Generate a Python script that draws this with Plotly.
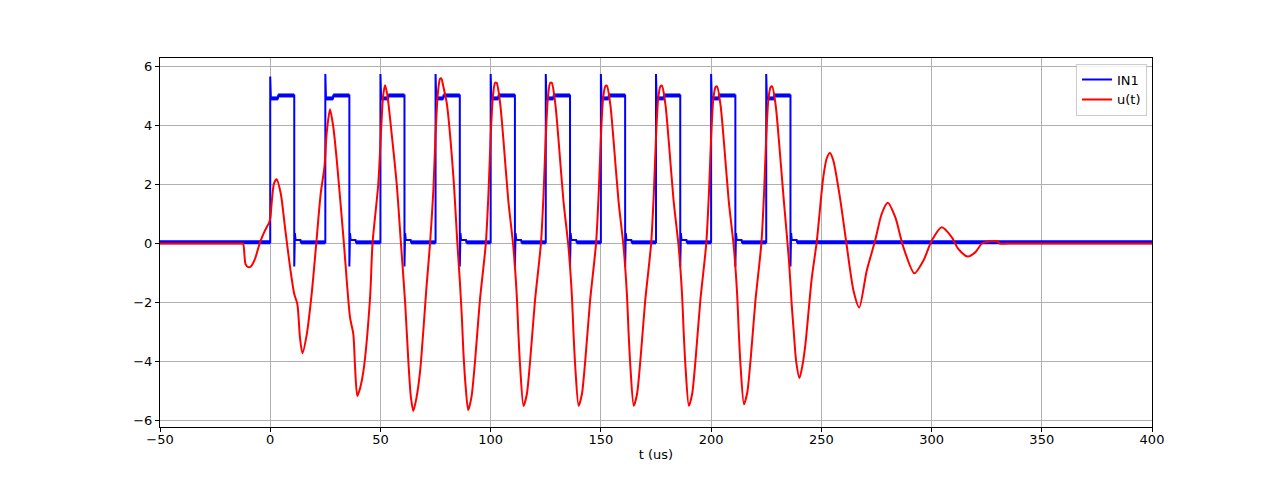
import plotly.graph_objects as go

# ---------------- data ----------------
# IN1 : square pulses
rise_times = [0, 25, 50, 75, 100, 125, 150, 175, 200, 225]
fall_times = [10.9, 35.9, 60.9, 86.0, 111.0, 136.0, 161.0, 186.0, 211.0, 236.0]
rise_spike = [5.66, 5.75, 5.75, 5.75, 5.75, 5.75, 5.75, 5.75, 5.75, 5.75]
high_first = 4.92      # level just after the rising edge
high_level = 5.02      # settled high level
fall_dip = -0.78       # undershoot at falling edge
fall_kick = 0.35       # small kick after falling edge
low_shelf = 0.12       # short shelf after falling edge
base_level = 0.04      # resting level

# u(t) : response
u_t = [-50, -13.0, -12.3, -11.2, -10.0, -8.8, -6.9, -4.6, -2.4, -0.4, 0.1, 0.8, 1.7, 2.9,
       4.8, 6.7, 9.0, 10.9, 12.3, 13.5, 14.6, 16.6, 18.8, 20.8, 22.9, 24.6,
       25.6, 27.1, 28.6, 30.2, 33.2, 36.2, 37.7, 38.5, 39.5, 40.8, 42.3, 45.3,
       46.4, 49.0, 50.4, 51.2, 52.1, 53.2, 54.7, 57.4, 59.3, 61.2, 62.7, 63.8, 64.9,
       66.3, 68.0, 71.0, 72.5, 74.0, 75.0, 76.0, 77.0, 77.6, 78.6, 80.1, 83.1, 84.9,
       86.1, 87.0, 87.6, 88.6, 89.8, 91.3, 92.9, 95.1,
       97.8, 99.0, 100.0, 101.0, 102.0, 102.7, 104.3, 105.8, 108.0, 110.3, 111.8, 112.6, 113.4, 114.9, 116.4, 117.9, 120.1,
       122.8, 124.0, 125.0, 126.0, 127.0, 127.7, 129.3, 130.8, 133.0, 135.3, 136.8, 137.6, 138.4, 139.9, 141.4, 142.9, 145.1,
       147.8, 149.0, 150.0, 151.0, 152.0, 152.7, 154.3, 155.8, 158.0, 160.3, 161.8, 162.6, 163.4, 164.9, 166.4, 167.9, 170.1,
       172.8, 174.0, 175.0, 176.0, 177.0, 177.7, 179.3, 180.8, 183.0, 185.3, 186.8, 187.6, 188.4, 189.9, 191.4, 192.9, 195.1,
       197.8, 199.0, 200.0, 201.0, 202.0, 202.7, 204.3, 205.8, 208.0, 210.3, 211.8, 212.6, 213.4, 214.9, 216.4, 217.9, 220.1,
       222.8, 224.0, 225.0, 226.0, 227.0, 227.7, 229.3, 230.8, 233.0, 235.3, 236.5, 237.5, 238.6, 240.1, 241.5, 242.8,
       245.7, 247.9, 250.9, 252.5, 253.9, 255.5, 258.4, 261.3, 264.6, 267.2, 270.6, 274.4,
       277.4, 280.1, 283.5, 287.2, 292.2, 296.3, 300.1, 304.6, 309.2, 312.1, 316.3,
       319.8, 322.8, 325.0, 326.0, 330.0, 331.0, 335.0, 400.0]
u_val = [0.0, 0.0, 0.0, -0.7, -0.8, -0.78, -0.52, 0.05, 0.44, 0.73, 0.9, 1.5, 2.03, 2.18,
         1.69, 0.55, -0.8, -1.71, -2.05, -3.19, -3.72, -3.07, -1.71, -0.07, 1.69, 2.6,
         3.74, 4.55, 3.96, 2.82, 0.21, -2.5, -3.07, -4.2, -5.17, -4.9, -4.32, -1.83,
         0.0, 2.0, 4.0, 5.0, 5.37, 5.0, 4.0, 2.0, 0.0, -2.0, -4.04, -5.2, -5.68,
         -5.25, -4.32, -1.37, 0.0, 1.8, 3.7, 5.05, 5.58, 5.6, 5.3, 4.75, 2.26, 0.0,
         -1.37, -2.6, -3.64, -4.8, -5.65, -5.2, -4.0, -1.94,
         0.0, 1.69, 3.62, 4.98, 5.45, 5.45, 4.75, 3.5, 1.46, -0.12, -1.71, -3.07, -4.21, -5.51, -5.11, -3.98, -1.94,
         0.0, 1.69, 3.62, 4.98, 5.45, 5.45, 4.75, 3.5, 1.46, -0.12, -1.71, -3.07, -4.21, -5.5, -5.1, -3.98, -1.94,
         0.0, 1.69, 3.6, 4.92, 5.33, 5.35, 4.7, 3.45, 1.44, -0.12, -1.71, -3.07, -4.2, -5.5, -5.1, -3.98, -1.94,
         0.0, 1.69, 3.6, 4.92, 5.33, 5.35, 4.7, 3.45, 1.44, -0.12, -1.71, -3.07, -4.2, -5.5, -5.1, -3.98, -1.94,
         0.0, 1.69, 3.6, 4.9, 5.3, 5.33, 4.68, 3.45, 1.44, -0.12, -1.71, -3.07, -4.2, -5.45, -5.05, -3.95, -1.94,
         0.0, 1.69, 3.6, 4.9, 5.3, 5.33, 4.68, 3.45, 1.44, -0.56, -2.0, -3.0, -4.0, -4.56, -4.1, -3.4,
         -1.15, 0.05, 2.26, 2.9, 3.07, 2.8, 1.58, 0.05, -1.6, -2.17, -0.92, 0.1,
         1.01, 1.38, 0.9, -0.12, -1.01, -0.58, 0.1, 0.55, 0.21, -0.18, -0.44,
         -0.3, 0.0, 0.05, 0.07, 0.07, 0.0, 0.0, 0.0]

x_ticks = [-50, 0, 50, 100, 150, 200, 250, 300, 350, 400]
y_ticks = [-6, -4, -2, 0, 2, 4, 6]

# ---------------- build IN1 polyline from the edge lists ----------------
in_t, in_v = [-50], [base_level]
band_t, band_v = [-50], [base_level]
for T, F, sp in zip(rise_times, fall_times, rise_spike):
    in_t += [T, T, T + 0.3, T + 3.5, T + 3.6, F, F, F + 0.3, F + 0.6, F + 2.8, F + 3.0]
    in_v += [base_level, sp, high_first, high_first, high_level, high_level,
             fall_dip, fall_kick, low_shelf, low_shelf, base_level]
    band_t += [T, None, T + 0.3, T + 3.5, None, T + 3.6, F, None, F + 3.0]
    band_v += [base_level, None, high_first, high_first, None, high_level, high_level, None, base_level]
in_t.append(400)
in_v.append(base_level)
band_t.append(400)
band_v.append(base_level)

fig = go.Figure()
fig.add_trace(go.Scatter(x=band_t, y=band_v, mode="lines", line=dict(color="#0000ff", width=4),
                         showlegend=False, hoverinfo="skip", connectgaps=False))
fig.add_trace(go.Scatter(x=in_t, y=in_v, mode="lines", name="IN1",
                         line=dict(color="#0000ff", width=2)))
fig.add_trace(go.Scatter(x=u_t, y=u_val, mode="lines", name="u(t)",
                         line=dict(color="#ff0000", width=2, shape="spline", smoothing=0.7)))

axis_common = dict(showline=True, linecolor="black", linewidth=1, mirror=True,
                   ticks="outside", ticklen=4, tickwidth=1, tickcolor="black",
                   showgrid=True, gridcolor="#b0b0b0", gridwidth=0.8, zeroline=False,
                   tickfont=dict(family="DejaVu Sans", size=13, color="black"))

fig.update_layout(
    width=1280, height=480,
    margin=dict(l=152, r=136, t=50, b=61),
    paper_bgcolor="white", plot_bgcolor="white",
    font=dict(family="DejaVu Sans", size=13, color="black"),
    xaxis=dict(range=[-50, 400], tickvals=x_ticks, ticklabelstandoff=-4,
               title=dict(text="t (us)", font=dict(size=13), standoff=4), **axis_common),
    yaxis=dict(range=[-6.22, 6.29], tickvals=y_ticks, **axis_common),
    legend=dict(x=0.995, xanchor="right", y=0.985, yanchor="top",
                bgcolor="rgba(255,255,255,0.8)", bordercolor="#cccccc", borderwidth=1,
                font=dict(family="DejaVu Sans", size=13), itemwidth=30, tracegroupgap=0),
    showlegend=True,
)

fig.write_html("out.html")
